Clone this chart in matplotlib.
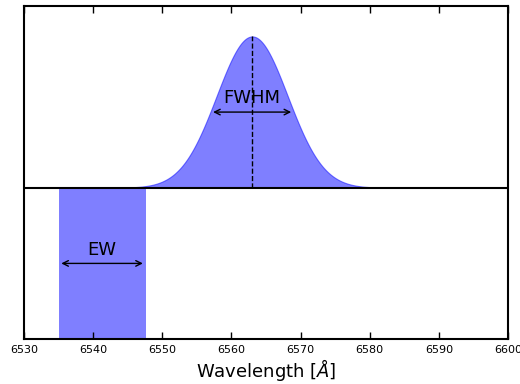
import numpy as np
import matplotlib.pyplot as plt

# line parameters
center = 6563.0
fwhm = 12.1
peak = 1.0
ew_lo, ew_hi = 6535.0, 6547.6
xticks = [6530, 6540, 6550, 6560, 6570, 6580, 6590, 6600]

sigma = fwhm / (2 * np.sqrt(2 * np.log(2)))
wl = np.linspace(6530, 6600, 1000)
flux = peak * np.exp(-0.5 * ((wl - center) / sigma) ** 2)

fig = plt.figure(figsize=(5.2, 3.84), dpi=100)
ax = fig.add_axes([0.046, 0.117, 0.931, 0.867])

ax.fill_between(wl, 0, flux, color='blue', alpha=0.5, lw=0.8)
ax.fill_between([ew_lo, ew_hi], -1, 0, color='blue', alpha=0.5, lw=0)
ax.axhline(0, color='black', lw=1.5)
ax.plot([center, center], [0, peak], 'k--', lw=1)

ax.annotate('', xy=(center - fwhm / 2, 0.5), xytext=(center + fwhm / 2, 0.5),
            arrowprops=dict(arrowstyle='<->', color='black', lw=1))
ax.text(center, 0.59, 'FWHM', ha='center', va='center', fontsize=13)
ax.annotate('', xy=(ew_lo, -0.5), xytext=(ew_hi, -0.5),
            arrowprops=dict(arrowstyle='<->', color='black', lw=1))
ax.text((ew_lo + ew_hi) / 2, -0.41, 'EW', ha='center', va='center', fontsize=13)

ax.set_xlim(6530, 6600)
ax.set_ylim(-1, 1.2)
ax.set_xticks(xticks)
ax.set_yticks([])
ax.tick_params(axis='x', direction='in', top=True, length=5, width=1, labelsize=8, pad=4)
for s in ax.spines.values():
    s.set_linewidth(1.5)
ax.set_xlabel(r'Wavelength [$\AA$]', fontsize=13, labelpad=2)

fig.savefig('out.png', dpi=100)
